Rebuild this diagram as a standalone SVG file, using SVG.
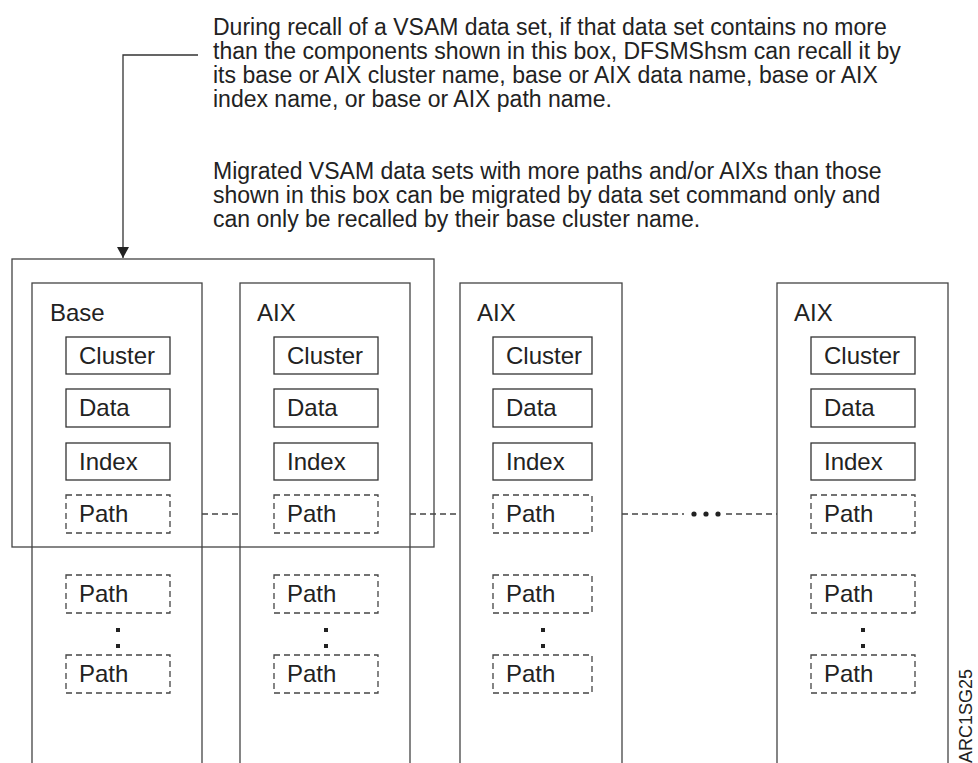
<svg xmlns="http://www.w3.org/2000/svg" width="978" height="763" viewBox="0 0 978 763">
<style>
  text { font-family: "Liberation Sans", Arial, sans-serif; fill: #222; }
  .note { font-size: 23px; }
  .lbl { font-size: 24px; }
  .col { fill: none; stroke: #444; stroke-width: 1.3; }
  .box { fill: #fff; stroke: #333; stroke-width: 1.3; }
  .dbox { fill: #fff; stroke: #444; stroke-width: 1.3; stroke-dasharray: 6 4; }
  .conn { fill: none; stroke: #333; stroke-width: 1.3; }
  .dconn { fill: none; stroke: #444; stroke-width: 1.3; stroke-dasharray: 6 4; }
  .dot { fill: #222; }
</style>
<defs>
  <marker id="arr" markerWidth="12" markerHeight="12" refX="11" refY="6" orient="auto" markerUnits="userSpaceOnUse">
    <path d="M0,0 L11,6 L0,12 Z" fill="#222"/>
  </marker>
</defs>

<g id="note">
  <text class="note" x="213" y="35">During recall of a VSAM data set, if that data set contains no more</text>
  <text class="note" x="213" y="59">than the components shown in this box, DFSMShsm can recall it by</text>
  <text class="note" x="213" y="83">its base or AIX cluster name, base or AIX data name, base or AIX</text>
  <text class="note" x="213" y="107">index name, or base or AIX path name.</text>
  <text class="note" x="213" y="179">Migrated VSAM data sets with more paths and/or AIXs than those</text>
  <text class="note" x="213" y="203">shown in this box can be migrated by data set command only and</text>
  <text class="note" x="213" y="227">can only be recalled by their base cluster name.</text>
</g>

<g id="recall-box">
  <rect class="col" x="12" y="259" width="422" height="288"/>
</g>

<g id="col-base">
  <rect class="col" x="32" y="283" width="170" height="490"/>
  <text class="lbl" x="50" y="321">Base</text>
  <rect class="box" x="66" y="337" width="104" height="37"/><text class="lbl" x="79" y="364">Cluster</text>
  <rect class="box" x="66" y="389" width="104" height="38"/><text class="lbl" x="79" y="416">Data</text>
  <rect class="box" x="66" y="443" width="104" height="37"/><text class="lbl" x="79" y="470">Index</text>
  <rect class="dbox" x="66" y="495" width="104" height="38"/><text class="lbl" x="79" y="522">Path</text>
  <rect class="dbox" x="66" y="575" width="104" height="38"/><text class="lbl" x="79" y="602">Path</text>
  <rect class="dot" x="116" y="628" width="4" height="4"/><rect class="dot" x="116" y="644" width="4" height="4"/><rect class="dot" x="116" y="660" width="4" height="4"/>
  <rect class="dbox" x="66" y="655" width="104" height="38"/><text class="lbl" x="79" y="682">Path</text>
</g>

<g id="col-aix1">
  <rect class="col" x="240" y="283" width="170" height="490"/>
  <text class="lbl" x="257" y="321">AIX</text>
  <rect class="box" x="274" y="337" width="104" height="37"/><text class="lbl" x="287" y="364">Cluster</text>
  <rect class="box" x="274" y="389" width="104" height="38"/><text class="lbl" x="287" y="416">Data</text>
  <rect class="box" x="274" y="443" width="104" height="37"/><text class="lbl" x="287" y="470">Index</text>
  <rect class="dbox" x="274" y="495" width="104" height="38"/><text class="lbl" x="287" y="522">Path</text>
  <rect class="dbox" x="274" y="575" width="104" height="38"/><text class="lbl" x="287" y="602">Path</text>
  <rect class="dot" x="324" y="628" width="4" height="4"/><rect class="dot" x="324" y="644" width="4" height="4"/><rect class="dot" x="324" y="660" width="4" height="4"/>
  <rect class="dbox" x="274" y="655" width="104" height="38"/><text class="lbl" x="287" y="682">Path</text>
</g>

<g id="col-aix2">
  <rect class="col" x="460" y="283" width="162" height="490"/>
  <text class="lbl" x="477" y="321">AIX</text>
  <rect class="box" x="493" y="337" width="99" height="37"/><text class="lbl" x="506" y="364">Cluster</text>
  <rect class="box" x="493" y="389" width="99" height="38"/><text class="lbl" x="506" y="416">Data</text>
  <rect class="box" x="493" y="443" width="99" height="37"/><text class="lbl" x="506" y="470">Index</text>
  <rect class="dbox" x="493" y="495" width="99" height="38"/><text class="lbl" x="506" y="522">Path</text>
  <rect class="dbox" x="493" y="575" width="99" height="38"/><text class="lbl" x="506" y="602">Path</text>
  <rect class="dot" x="541" y="628" width="4" height="4"/><rect class="dot" x="541" y="644" width="4" height="4"/><rect class="dot" x="541" y="660" width="4" height="4"/>
  <rect class="dbox" x="493" y="655" width="99" height="38"/><text class="lbl" x="506" y="682">Path</text>
</g>

<g id="col-aixn">
  <rect class="col" x="777" y="283" width="171" height="490"/>
  <text class="lbl" x="794" y="321">AIX</text>
  <rect class="box" x="811" y="337" width="104" height="37"/><text class="lbl" x="824" y="364">Cluster</text>
  <rect class="box" x="811" y="389" width="104" height="38"/><text class="lbl" x="824" y="416">Data</text>
  <rect class="box" x="811" y="443" width="104" height="37"/><text class="lbl" x="824" y="470">Index</text>
  <rect class="dbox" x="811" y="495" width="104" height="38"/><text class="lbl" x="824" y="522">Path</text>
  <rect class="dbox" x="811" y="575" width="104" height="38"/><text class="lbl" x="824" y="602">Path</text>
  <rect class="dot" x="861" y="628" width="4" height="4"/><rect class="dot" x="861" y="644" width="4" height="4"/><rect class="dot" x="861" y="660" width="4" height="4"/>
  <rect class="dbox" x="811" y="655" width="104" height="38"/><text class="lbl" x="824" y="682">Path</text>
</g>

<g id="connectors">
  <path class="conn" d="M198,55 H123 V258" marker-end="url(#arr)"/>
  <path class="dconn" d="M202,514 H240"/>
  <path class="dconn" d="M410,514 H460"/>
  <path class="dconn" d="M622,514 H684"/>
  <path class="dconn" d="M726,514 H777"/>
  <circle class="dot" cx="694" cy="514" r="2.6"/>
  <circle class="dot" cx="706" cy="514" r="2.6"/>
  <circle class="dot" cx="718" cy="514" r="2.6"/>
</g>

<text x="0" y="0" font-size="18" transform="translate(972,763) rotate(-90)">ARC1SG25</text>
</svg>
